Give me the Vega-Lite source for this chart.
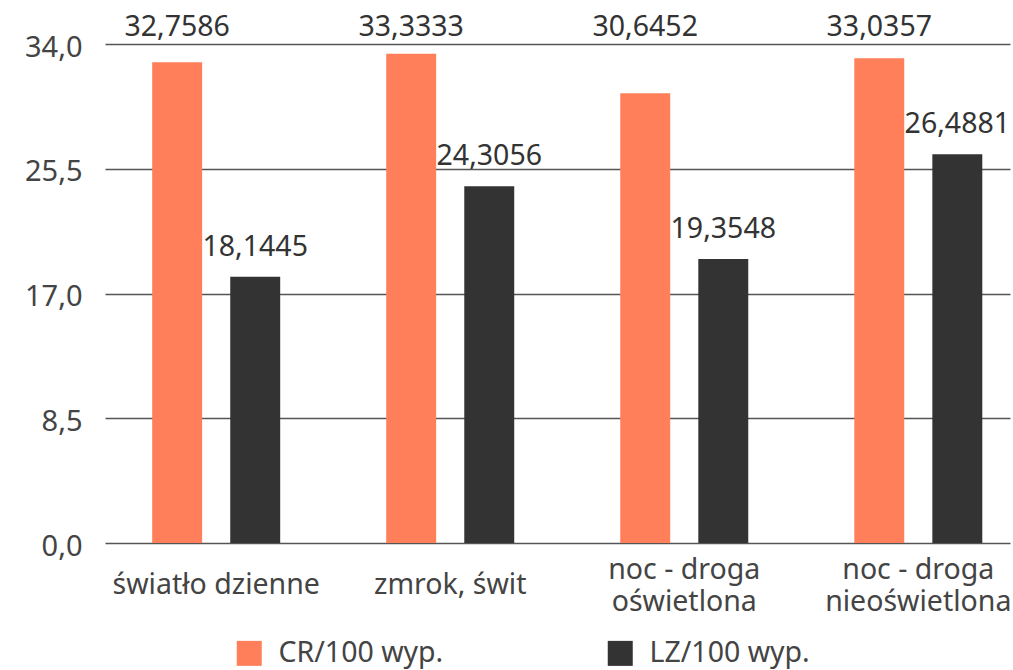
{
  "$schema": "https://vega.github.io/schema/vega-lite/v6.json",
  "width": 905,
  "height": 499,
  "autosize": {"type": "none"},
  "padding": {"left": 105, "top": 44, "right": 3, "bottom": 127},
  "background": "white",
  "config": {
    "locale": {"number": {"decimal": ",", "thousands": " ", "grouping": [3], "currency": ["", " zł"]}},
    "font": "Noto Sans",
    "view": {"stroke": null}
  },
  "data": {
    "values": [
      {"cat": "światło dzienne", "series": "CR/100 wyp.", "value": 32.7586},
      {"cat": "światło dzienne", "series": "LZ/100 wyp.", "value": 18.1445},
      {"cat": "zmrok, świt", "series": "CR/100 wyp.", "value": 33.3333},
      {"cat": "zmrok, świt", "series": "LZ/100 wyp.", "value": 24.3056},
      {"cat": "noc - droga|oświetlona", "series": "CR/100 wyp.", "value": 30.6452},
      {"cat": "noc - droga|oświetlona", "series": "LZ/100 wyp.", "value": 19.3548},
      {"cat": "noc - droga|nieoświetlona", "series": "CR/100 wyp.", "value": 33.0357},
      {"cat": "noc - droga|nieoświetlona", "series": "LZ/100 wyp.", "value": 26.4881}
    ]
  },
  "encoding": {
    "x": {
      "field": "cat",
      "type": "nominal",
      "sort": null,
      "scale": {"paddingInner": 0.453, "paddingOuter": 0.16, "align": 0.63},
      "axis": {
        "title": null,
        "labelAngle": 0,
        "domain": false,
        "ticks": false,
        "labelExpr": "split(datum.label, '|')",
        "labelFontSize": 28.5,
        "labelColor": "#444444",
        "labelBaseline": {"condition": {"test": "indexof(datum.label, '|') >= 0", "value": "bottom"}, "value": "middle"},
        "labelPadding": 41,
        "labelLineHeight": 32,
        "labelLimit": 400,
        "encoding": {"labels": {"update": {"lineHeight": {"value": 32}}}}
      }
    },
    "xOffset": {
      "field": "series",
      "type": "nominal",
      "scale": {"paddingInner": 0.36, "paddingOuter": 0}
    }
  },
  "layer": [
    {
      "mark": {"type": "bar"},
      "encoding": {
        "y": {
          "field": "value",
          "type": "quantitative",
          "scale": {"domain": [0, 34], "nice": false},
          "axis": {
            "title": null,
            "values": [0, 8.5, 17, 25.5, 34],
            "format": ".1f",
            "domain": false,
            "ticks": false,
            "grid": true,
            "gridColor": "#555555",
            "gridWidth": 1.5,
            "labelFontSize": 29,
            "labelColor": "#444444",
            "labelPadding": 23,
            "labelOffset": 3
          }
        },
        "color": {
          "field": "series",
          "type": "nominal",
          "scale": {"domain": ["CR/100 wyp.", "LZ/100 wyp."], "range": ["#FF7F5A", "#333333"]},
          "legend": {
            "title": null,
            "orient": "none",
            "direction": "horizontal",
            "legendX": 130,
            "legendY": 595,
            "symbolType": "square",
            "symbolSize": 625,
            "symbolStrokeWidth": 0,
            "symbolOpacity": 1,
            "labelFontSize": 28.5,
            "labelColor": "#444444",
            "labelOffset": 15,
            "columnPadding": 162,
            "labelLimit": 300
          }
        }
      }
    },
    {
      "transform": [{"filter": "datum.series === 'CR/100 wyp.'"}],
      "mark": {"type": "text", "dy": -17, "baseline": "middle", "fontSize": 28.5, "color": "#333333"},
      "encoding": {
        "y": {"datum": 34, "type": "quantitative"},
        "text": {"field": "value", "type": "quantitative", "format": ".4f"}
      }
    },
    {
      "transform": [{"filter": "datum.series === 'LZ/100 wyp.'"}],
      "mark": {"type": "text", "dy": -30, "baseline": "middle", "fontSize": 28.5, "color": "#333333"},
      "encoding": {
        "y": {"field": "value", "type": "quantitative"},
        "text": {"field": "value", "type": "quantitative", "format": ".4f"}
      }
    }
  ]
}
